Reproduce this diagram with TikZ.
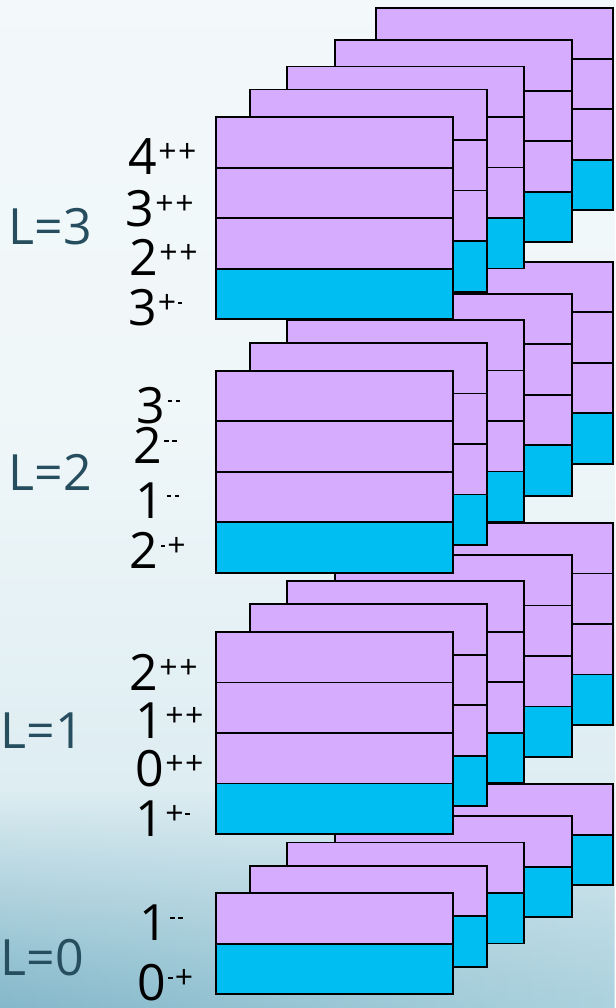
\documentclass[tikz,border=0pt]{standalone}
\usepackage{fontspec}
\setmainfont{Open Sans}
\usetikzlibrary{fadings}
\definecolor{lav}{RGB}{214,172,255}
\definecolor{cy}{RGB}{0,189,242}
\definecolor{lcol}{RGB}{38,78,94}
\definecolor{bgA}{RGB}{246,250,252}
\definecolor{bgB}{RGB}{240,247,249}
\definecolor{bgC}{RGB}{216,234,240}
\definecolor{bgD}{RGB}{172,210,222}
\definecolor{bgE}{RGB}{132,184,202}
\pgfdeclareverticalshading{bgsh}{100bp}{color(0bp)=(bgD); color(30bp)=(bgC); color(55bp)=(bgB); color(100bp)=(bgA)}
\tikzset{
  card/.style={draw=black, line width=1.8pt},
  numlab/.style={anchor=base west, inner sep=0pt, font=\fontsize{50}{50}\selectfont},
  llab/.style={anchor=base west, inner sep=0pt, text=lcol, font=\fontsize{50}{50}\selectfont}
}
\newcommand\cardstack[2]{%
  \foreach \dx/\dy in {159.7/-109,119/-77,70.7/-50.8,34/-27.7,0/0}{
    \pgfmathsetmacro\xa{216+\dx}
    \pgfmathsetmacro\ya{#1+\dy}
    \pgfmathsetmacro\yb{#1+\dy+(#2-1)*50.5}
    \filldraw[card,fill=lav] (\xa,\ya) rectangle ++(237,#2*50.5);
    \filldraw[card,fill=cy] (\xa,\yb) rectangle ++(237,50.5);
    \ifnum#2>2
      \foreach \k in {1,...,\the\numexpr#2-2\relax}{
        \draw[card] (\xa,\ya+\k*50.5) -- ++(237,0);
      }
    \fi
  }}
\newcommand\hy{\kern1.5pt\rule[9.5pt]{4.5pt}{1.8pt}\kern2pt}
\newcommand\pl{+\kern1.5pt}
\newcommand\lbl[5]{\node[numlab] (#1) at (#2,#3) {#4\kern1pt\raisebox{12pt}{\fontsize{32}{32}\selectfont #5}};}
\begin{document}
\begin{tikzpicture}[x=1pt,y=-1pt]
\useasboundingbox (0,0) rectangle (615,1008);
\shade[shading=bgsh] (0,0) rectangle (615,1008);
\shade[left color=bgE, right color=bgD, path fading=north] (0,790) rectangle (615,1008);
% card stacks, lower groups behind
\cardstack{893.3}{2}
\cardstack{632}{4}
\cardstack{370.7}{4}
\cardstack{117.3}{4}
% level labels
\node[llab] (L3) at (8.5,244) {L=3};
\node[llab] (L2) at (8.5,490.7) {L=2};
\node[llab] (L1) at (0.5,748.3) {L=1};
\node[llab] (L0) at (0.5,975) {L=0};
% state labels
\lbl{a4}{128.5}{175}{4}{\pl+}
\lbl{a3}{125.7}{226}{3}{\pl+}
\lbl{a2}{129.7}{275}{2}{\pl+}
\lbl{a3b}{128}{325.5}{3}{+\hy}
\lbl{b3}{136.3}{423}{3}{\hy\hy}
\lbl{b2}{133}{463}{2}{\hy\hy}
\lbl{b1}{135.5}{518}{1}{\hy\hy}
\lbl{b2b}{129.7}{568}{2}{\hy+}
\lbl{c2}{129.7}{690}{2}{\pl+}
\lbl{c1}{135.5}{738.3}{1}{\pl+}
\lbl{c0}{135.5}{786}{0}{\pl+}
\lbl{c1b}{135.5}{836.7}{1}{+\hy}
\lbl{d1}{139}{940}{1}{\hy\hy}
\lbl{d0}{137}{1000}{0}{\hy+}
\end{tikzpicture}
\end{document}
